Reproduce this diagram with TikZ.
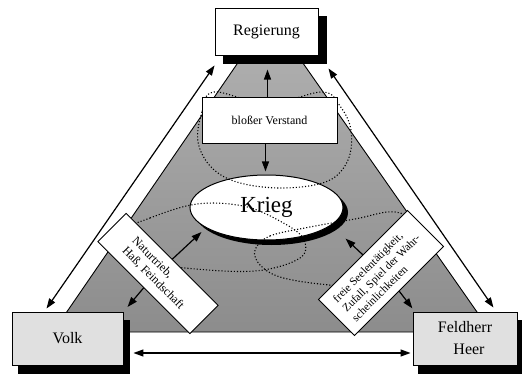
\documentclass[tikz,border=0pt]{standalone}
\usepackage{fontspec}
\setmainfont{Liberation Serif}
\usetikzlibrary{arrows.meta,shapes.geometric,calc}
\begin{document}
\begin{tikzpicture}[x=1pt,y=-1pt,
  ar/.style={line width=1.2pt,-{Triangle[length=10pt,width=7pt]}},
  dar/.style={line width=1.2pt,{Triangle[length=10pt,width=7pt]}-{Triangle[length=10pt,width=7pt]}},
  dotloop/.style={dotted, line width=1.1pt},
  mainbox/.style={draw, line width=0.9pt, inner sep=0pt, align=center,
    font=\fontsize{16}{22}\selectfont},
  shadowbox/.style={fill=black, draw=black, line width=0.5pt, inner sep=0pt},
  textbox/.style={draw, fill=white, line width=0.9pt, inner sep=0pt,
    font=\fontsize{12}{14}\selectfont}
]
\useasboundingbox (0,0) rectangle (522,377);
\path[draw=black, line width=0.9pt, top color=black!30, bottom color=black!45]
  (270,16) -- (53,332) -- (491,332) -- cycle;
\path[fill=black] (271.5,212.5) ellipse [x radius=76.5, y radius=32.5];
\node[ellipse, draw, line width=1pt, fill=white, minimum width=153pt, minimum height=65pt]
  (krieg) at (266.5,207.5) {};
\draw[dotloop] plot[smooth cycle, tension=0.6] coordinates
  {(214,92) (202,112) (198,142) (212,168) (240,183) (285,188) (328,181) (348,160) (351,130) (340,106) (322,92) (268,104)};
\draw[dotloop] plot[smooth cycle, tension=0.6] coordinates
  {(125,232) (150,218) (197,204) (243,206) (278,220) (303,238) (300,258) (255,271) (185,268) (140,260)};
\draw[dotloop] plot[smooth cycle, tension=0.6] coordinates
  {(255,250) (270,236) (310,227) (355,219) (395,212) (418,228) (405,268) (360,285) (320,284) (280,277) (260,265)};
\node[font=\fontsize{23}{26}\selectfont] (kriegtext) at (krieg) {Krieg};
\node[textbox, minimum width=135pt, minimum height=46pt] (verst) at (269.5,120) {bloßer Verstand};
\node[textbox, minimum width=130pt, minimum height=40pt, rotate=-45, align=left]
  (natur) at (158,273.5) {Naturtrieb,\\Haß, Feindschaft};
\node[textbox, minimum width=126pt, minimum height=51pt, rotate=45, align=left,
  font=\fontsize{11.3}{13.5}\selectfont]
  (freie) at (381,273) {freie Seelentätigkeit,\\Zufall, Spiel der Wahr-\\scheinlichkeiten};
\node[shadowbox, minimum width=103pt, minimum height=47pt] (regsh) at (275,40) {};
\node[shadowbox, minimum width=111pt, minimum height=53pt] (volksh) at (74,346.5) {};
\node[shadowbox, minimum width=104pt, minimum height=53pt] (feldsh) at (470.5,346.5) {};
\node[mainbox, fill=white, minimum width=103pt, minimum height=47pt]
  (reg) at (266.5,31.5) {Regierung};
\node[mainbox, fill=black!12, minimum width=111pt, minimum height=53pt]
  (volk) at (67.5,338.5) {Volk};
\node[mainbox, fill=black!12, minimum width=104pt, minimum height=53pt]
  (feld) at (465,338.5) {Feldherr\\\hspace*{8pt}Heer};
\draw[dar] ([xshift=-21pt,yshift=3pt]volk.north) -- ([yshift=-10pt]reg.south west);
\draw[dar] ([xshift=10pt,yshift=-13pt]reg.south east) -- ([xshift=-24pt,yshift=4pt]feld.north east);
\draw[dar] ([xshift=10pt,yshift=-14.5pt]volk.east) -- ([xshift=-2pt,yshift=-14.5pt]feld.west);
\draw[ar] ([xshift=-2pt]verst.north) -- ++(0,-27);
\draw[ar] ([xshift=-4pt]verst.south) -- ++(0,28);
\draw[ar] (natur.north) -- ++(29,-27);
\draw[ar] (natur.south) -- ++(-16,19);
\draw[ar] (freie.north) -- ++(-17,-16);
\draw[ar] (freie.south) -- ++(13,17);
\end{tikzpicture}
\end{document}
